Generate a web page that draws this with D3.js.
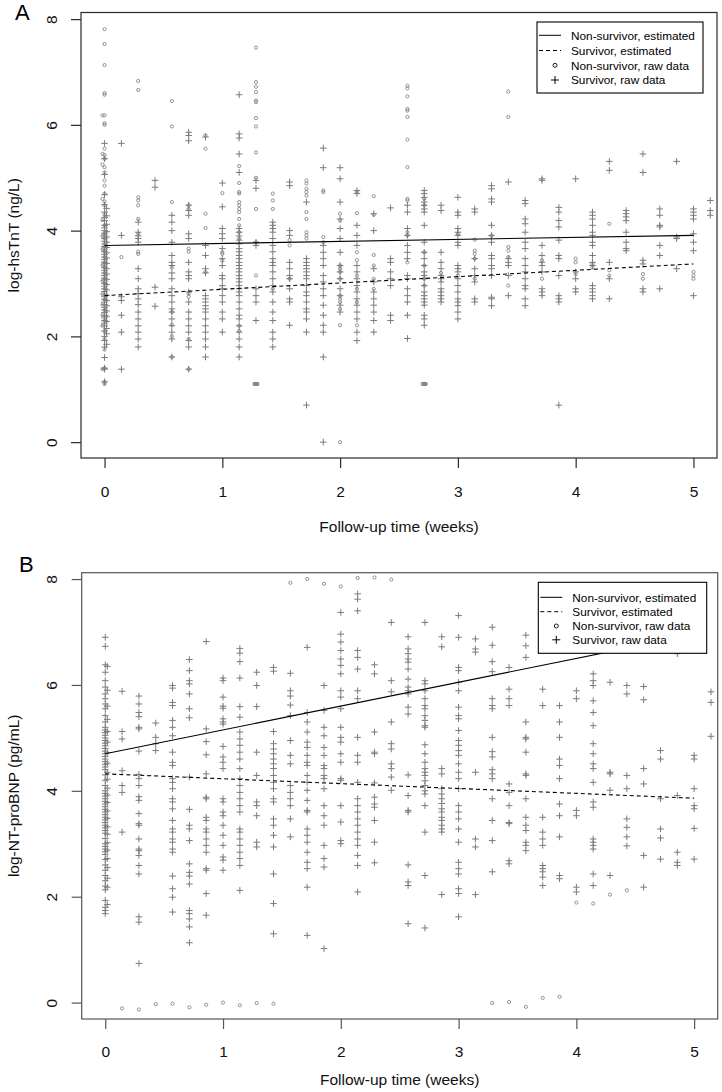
<!DOCTYPE html>
<html><head><meta charset="utf-8">
<script src="https://cdn.jsdelivr.net/npm/d3@7"></script>
<style>body{margin:0;background:#fff;} text{font-family:"Liberation Sans",Arial,Helvetica,sans-serif;}</style>
</head><body><svg id="c" width="722" height="1092"></svg>
<script>
const xTicks=[0,1,2,3,4,5];
const yTicks=[0,2,4,6,8];
const legendLabels=["Non-survivor, estimated","Survivor, estimated","Non-survivor, raw data","Survivor, raw data"];

// ---- Panel A: log-hsTnT, [day, values] ----
const hsTnT_survivor=[
[0,[5.65,5.36,5.06,4.68,4.49,4.35,4.25,4.19,4.1,4.05,4.0,3.95,3.9,3.85,3.8,3.75,3.7,3.65,3.6,3.55,3.5,3.45,3.4,3.35,3.3,3.25,3.2,3.15,3.1,3.05,3.0,2.95,2.9,2.85,2.8,2.75,2.7,2.65,2.6,2.55,2.5,2.45,2.4,2.35,2.3,2.25,2.2,2.1,2.0,1.92,1.8,1.6,1.4,1.38,1.14]],
[0.12,[4.42,4.28,4.12,3.98,3.88,3.78,3.68,3.58,3.48,3.38,3.28,3.18,3.08,2.98,2.88,2.78,2.68,2.58,2.48,2.38,2.28,2.15,2.05,1.85]],
[1,[5.65,3.91,2.75,2.68,2.40,2.08,1.38]],
[2,[4.16,3.97,3.9,3.85,3.78,3.28,3.09,2.9,2.81,2.71,2.6,2.46,2.33,2.2,2.08,1.95,1.80]],
[3,[4.95,4.82,2.93,2.57]],
[4,[4.29,4.16,4.0,3.78,3.53,3.4,3.34,3.2,3.09,2.9,2.77,2.65,2.52,2.46,2.33,2.2,2.08,1.95,1.61]],
[5,[5.86,5.8,5.7,4.48,4.38,4.29,3.94,3.85,3.4,3.22,3.15,3.09,2.84,2.65,2.46,2.33,2.2,2.08,1.92,1.8,1.38]],
[6,[5.77,3.72,3.53,3.28,3.2,2.77,2.71,2.65,2.58,2.52,2.46,2.33,2.2,2.08,1.95,1.8,1.61]],
[7,[4.9,4.45,4.04,3.94,3.85,3.66,3.47,3.34,3.15,3.09,2.96,2.9,2.77,2.65,2.46,2.33,2.08]],
[8,[6.57,5.83,5.75,5.45,5.1,4.04,3.97,3.9,3.82,3.75,3.66,3.6,3.53,3.47,3.4,3.34,3.28,3.22,3.15,3.09,3.03,2.96,2.9,2.84,2.77,2.65,2.52,2.4,2.33,2.2,2.08,1.95,1.8,1.61]],
[9,[4.95,4.8,3.78,3.72,2.9,2.77,2.65,2.3]],
[10,[4.16,4.1,4.04,3.97,3.85,3.72,3.6,3.47,3.4,3.34,3.22,3.09,2.96,2.84,2.65,2.46,2.3,2.08,1.95,1.8]],
[11,[4.92,4.85,4.0,3.91,3.4,3.28,3.15,3.09,2.9,2.71,2.65,2.21]],
[12,[4.54,3.47,3.4,3.34,3.28,3.22,3.15,3.09,2.96,2.84,2.77,2.65,2.52,2.46,2.33,2.08,0.7]],
[13,[5.56,5.19,3.72,3.59,3.47,3.34,3.15,3.03,2.9,2.77,2.59,2.4,2.21,2.08,1.61,0.0]],
[14,[5.19,4.98,4.54,4.22,4.04,3.85,3.59,3.34,3.22,3.09,2.9,2.77,2.59,2.46]],
[15,[4.76,4.7,4.1,3.91,3.72,3.34,3.22,3.09,2.96,2.84,2.71,2.59,2.46,2.33,2.08,1.92]],
[16,[4.32,4.0,3.28,3.03,2.84,2.71,2.59,2.46,2.3,2.08]],
[17,[4.43,3.47,3.4,3.22,3.09,2.96,2.4,2.3]],
[18,[4.48,4.35,4.04,3.91,3.72,3.59,3.47,3.15,3.09,2.9,2.77,2.65,2.4,1.96]],
[19,[4.76,4.7,4.63,4.54,4.48,4.41,4.35,4.1,3.78,3.59,3.47,3.34,3.22,3.15,3.09,2.96,2.84,2.77,2.71,2.65,2.59,2.4,2.33,2.21]],
[20,[4.48,4.38,3.59,3.4,3.28,3.15,3.09,3.03,2.9,2.84,2.77,2.71,2.65]],
[21,[4.63,4.35,4.29,4.04,3.97,3.91,3.78,3.72,3.34,3.28,3.22,3.09,2.96,2.84,2.71,2.65,2.58,2.46,2.33]],
[22,[4.41,4.35,3.47,3.28,3.15,3.03,2.71,2.65]],
[23,[4.85,4.79,4.6,4.54,4.1,3.91,3.78,3.53,3.47,3.34,3.28,3.15,2.74,2.71,2.58]],
[24,[4.92,3.47,3.4,3.34,3.15,2.77]],
[25,[4.57,4.51,4.22,4.13,3.97,3.78,3.66,3.47,3.34,3.22,3.09,2.96,2.9,2.71,2.58]],
[26,[4.98,4.95,3.72,3.53,3.4,3.34,3.22,2.9,2.84,2.77]],
[27,[4.44,4.35,4.19,4.07,3.82,3.53,3.47,3.15,2.77,2.71,2.65,0.7]],
[28,[4.98,3.22,3.09,2.9,2.84]],
[29,[4.35,4.29,4.22,4.1,3.97,3.91,3.78,3.72,3.53,3.4,3.34,2.96,2.9,2.84,2.77,2.71]],
[30,[5.31,5.14,3.4,3.09,2.71]],
[31,[4.38,4.32,4.26,4.19,3.97,3.78,3.66,3.62]],
[32,[5.45,5.1,3.44,3.37,2.9,2.84]],
[33,[4.41,4.29,4.1,4.07,3.72,3.53,2.9]],
[34,[5.31,3.88,3.85,3.28]],
[35,[4.41,4.35,4.29,4.22,3.94,3.78,3.62,2.77]],
[36,[4.57,4.38,4.29]]
];
const hsTnT_nonsurvivor=[
[0,[7.81,7.53,7.13,6.6,6.57,6.18,6.03,6.0,5.55,5.43,5.36,5.2,5.1,4.95,4.85,4.7,4.55,4.48,4.3,4.1,3.95,3.85,3.72,3.6,3.5,3.4,3.3,3.2,3.1,3.0,2.9,2.7,2.5,2.3,2.1,1.95,1.75,1.4,1.14,1.1]],
[-0.12,[6.18,5.45,5.25,4.6,4.2,3.9,3.65,3.35,3.05,2.8,2.6,2.4,2.2,1.38]],
[1,[3.5]],
[2,[6.83,6.66,4.63,4.57,4.48,4.22,3.94,3.6,3.56]],
[4,[6.45,5.97,4.54,3.3,2.46,2.22,2.0,1.61]],
[5,[4.48,4.41,3.66,3.6,2.81,2.75,1.95,1.38]],
[6,[5.8,5.55,4.32,4.05,3.22]],
[7,[4.71,3.59,3.56,3.43]],
[8,[5.22,4.9,4.73,4.7,4.54,4.48,4.41,4.35,4.22,4.1,3.97,3.85,2.2,2.1]],
[9,[7.46,6.81,6.72,6.62,6.46,6.43,6.13,5.97,5.48,5.0,4.41,3.78,3.15]],
[8.9,[1.1]],[8.95,[1.1]],[9,[1.1]],[9.05,[1.1]],[9.1,[1.1]],
[10,[4.7,4.57,4.41,2.9]],
[11,[3.82,3.72,3.09]],
[12,[4.95,4.89,4.79,4.73,4.66,4.35,4.22,3.97,3.91,3.85]],
[13,[4.76,4.73,3.88,3.78]],
[14,[4.32,4.19,3.34,3.28,3.22,3.09,2.77,2.71,2.65,2.52,2.21,0.0]],
[15,[4.73,4.33,3.59,3.44,3.15,2.9,2.65,2.21]],
[16,[4.65,4.3,3.54,3.34,3.09,2.9]],
[18,[6.74,6.69,6.54,6.3,6.27,6.15,5.72,5.2,4.6,4.57,3.97,3.91,3.4]],
[19,[4.6,4.48,3.59,3.34,3.09,2.96]],
[18.9,[1.1]],[18.95,[1.1]],[19,[1.1]],[19.05,[1.1]],[19.1,[1.1]],
[20,[3.2]],
[21,[3.94,3.15]],
[22,[3.83,3.62,3.56,3.47,3.09]],
[23,[3.9]],
[24,[6.63,6.15,3.69,3.62,3.5,2.96]],
[26,[3.44,3.09]],
[28,[3.47,3.4,3.18]],
[29,[3.37,3.3]],
[30,[4.13,3.25,3.15]],
[32,[3.18,3.09]],
[35,[3.22,3.15,3.09]]
];
const hsTnT_fit_nonsurvivor=[[0,3.72],[5,3.91]];
const hsTnT_fit_survivor=[[0,2.77],[5,3.37]];

// ---- Panel B: log-NT-proBNP, [day, values] ----
const ntprobnp_survivor=[
[0,[6.9,6.73,6.38,6.24,6.08,5.96,5.83,5.74,5.64,5.55,5.42,5.3,5.2,5.15,5.1,5.05,5.0,4.95,4.9,4.85,4.8,4.75,4.7,4.65,4.6,4.55,4.5,4.45,4.4,4.3,4.2,4.1,4.0,3.95,3.9,3.85,3.8,3.75,3.7,3.65,3.6,3.55,3.5,3.45,3.4,3.35,3.3,3.25,3.2,3.1,3.0,2.95,2.9,2.85,2.8,2.7,2.6,2.5,2.4,2.3,2.2,2.13,1.93,1.8,1.74,1.68]],
[0.12,[6.35,5.9,5.6,5.35,5.12,4.92,4.72,4.52,4.35,4.22,4.05,3.92,3.78,3.62,3.48,3.32,3.18,3.02,2.88,2.72,2.55,2.35,2.18,1.85]],
[1,[5.88,5.12,4.98,4.38,4.1,3.97,3.22]],
[2,[5.79,5.64,5.48,5.4,5.2,5.17,4.75,4.31,4.23,4.1,3.89,3.82,3.57,3.38,3.35,3.09,2.9,2.87,2.78,2.59,2.43,1.62,1.52,0.74]],
[3,[5.28,5.01,4.89,4.76]],
[4,[5.99,5.94,5.67,5.61,5.33,5.2,5.04,4.73,4.54,4.48,4.23,4.16,4.04,3.85,3.79,3.66,3.44,3.28,3.22,3.09,3.03,2.9,2.84,2.39,2.15,1.99,1.71]],
[5,[6.48,6.27,6.08,6.02,5.83,5.55,5.38,4.26,3.65,3.35,3.28,3.06,2.62,2.46,2.39,2.24,1.74,1.68,1.58,1.43,1.13]],
[6,[6.82,5.17,4.93,4.68,4.32,3.88,3.85,3.5,3.44,3.28,3.22,3.09,2.97,2.84,2.53,2.5,2.06,1.65]],
[7,[6.13,6.08,5.77,5.6,5.56,5.36,5.3,5.26,4.84,4.64,4.54,4.42,3.85,3.79,3.6,3.53,3.35,3.16,2.97,2.75,2.69,2.5]],
[8,[6.69,6.6,6.44,6.13,5.59,5.39,5.11,4.98,4.86,4.73,4.6,4.42,4.23,4.1,3.97,3.85,3.72,3.6,3.28,3.22,3.09,2.97,2.84,2.72,2.59,2.12]],
[9,[6.24,5.99,5.59,4.73,4.29,3.79,3.72,3.53,3.03,2.94]],
[10,[6.33,6.26,5.12,4.89,4.79,4.7,4.6,4.51,4.42,4.29,4.16,4.04,3.85,3.79,3.47,3.35,3.16,2.94,2.43,1.87,1.3]],
[11,[6.22,5.89,5.79,5.62,5.42,4.95,4.67,4.51,4.1,3.97,3.85,3.72,3.47,3.13]],
[12,[6.71,5.48,5.3,5.11,4.92,4.82,4.67,4.54,4.48,4.29,4.16,4.01,3.82,3.63,3.6,3.28,3.16,3.03,2.84,2.65,2.53,2.18,1.27]],
[13,[5.99,5.52,5.2,5.04,4.82,4.67,4.48,4.42,4.29,4.23,4.04,3.72,3.53,3.35,2.97,2.72,2.56,1.02]],
[14,[7.37,6.96,6.81,6.65,6.49,6.37,6.21,5.89,5.77,5.55,5.2,5.01,4.92,4.7,4.54,4.23,4.2,3.72,3.41,3.06,3.0]],
[15,[7.72,7.62,7.4,6.65,6.52,6.3,5.89,5.74,5.01,4.67,4.54,4.16,3.85,3.72,3.6,3.47,3.35,3.22,3.09,2.97,2.78,2.59,2.09]],
[16,[6.38,6.21,5.11,4.73,4.7,4.15,3.88,3.75,3.69,3.44,3.03,2.64]],
[17,[7.18,6.08,5.87,5.3,4.89,4.79,4.51,4.42,4.26,4.01]],
[18,[6.91,6.68,6.59,6.49,6.43,6.3,6.11,5.96,5.89,5.83,5.58,5.45,4.3,3.91,3.63,3.6,2.6,2.28,2.21,1.49]],
[19,[7.18,6.08,6.02,5.89,5.74,5.61,5.55,5.42,5.33,5.23,5.2,4.87,4.7,4.54,4.42,4.35,4.29,4.19,4.1,4.0,3.94,3.72,3.22,2.4,1.41]],
[20,[6.91,6.72,4.42,4.32,4.04,3.94,3.85,3.76,3.66,3.6,3.5,3.44,3.35,3.28,3.22,2.04]],
[21,[7.31,6.9,6.33,6.27,6.05,5.89,5.58,5.42,5.36,5.14,4.95,4.86,4.76,4.67,4.51,4.35,4.23,4.04,3.72,3.6,3.47,3.28,3.03,2.65,2.53,2.43,2.15,2.06,1.62]],
[22,[6.87,6.68,6.62,4.35,3.09,2.94,2.04]],
[23,[7.09,6.75,6.44,6.25,5.74,5.61,5.55,5.01,4.74,4.64,4.4,4.32,4.23,3.85,3.44,3.06,2.47]],
[24,[6.33,5.92,5.74,5.61,4.13,3.97,3.72,3.4,3.38,2.68,2.62]],
[25,[6.94,6.74,6.52,5.3,5.01,4.98,4.73,4.32,4.29,3.85,3.5,3.35,3.25,3.03,2.97,2.87]],
[26,[5.92,5.61,3.5,3.22,3.09,2.97,2.59,2.53,2.47,2.37,2.21]],
[27,[5.61,5.3,5.01,4.6,4.48,4.23,3.75,3.53,3.13,2.4,2.34]],
[28,[5.89,5.74,3.63,3.53,2.18,2.09]],
[29,[6.21,6.08,5.99,5.7,5.48,5.23,4.89,4.7,4.51,4.42,4.16,3.79,3.69,3.09,3.03,2.97,2.9,2.43,2.21]],
[30,[6.05,4.35,4.32,4.01,2.4]],
[31,[5.99,5.83,4.29,4.04,3.47,3.31,3.13,2.96]],
[32,[5.97,5.72,4.42,4.13,2.78,2.18]],
[33,[4.76,4.6,3.85,3.28,3.11,2.71]],
[34,[6.59,3.91,2.84,2.65,2.59]],
[35,[4.67,4.6,4.04,3.72,3.66,3.29,2.71]],
[36,[5.87,5.67,5.03]]
];
const ntprobnp_nonsurvivor=[
[1,[-0.11]],[2,[-0.13]],[3,[-0.03]],[4,[-0.02]],[5,[-0.09]],[6,[-0.04]],[7,[0.0]],[8,[-0.05]],[9,[-0.01]],[10,[-0.02]],
[11,[7.93]],[12,[8.0]],[13,[7.91]],[14,[7.86]],[15,[8.02]],[16,[8.03]],[17,[7.99]],
[23,[-0.01]],[24,[0.01]],[25,[-0.08]],[26,[0.09]],[27,[0.11]],
[28,[1.89]],[29,[1.87]],[30,[2.04]],[31,[2.12]]
];
const ntprobnp_fit_nonsurvivor=[[0,4.70],[5,6.95]];
const ntprobnp_fit_survivor=[[0,4.32],[5,3.86]];

const svg=d3.select("#c");
const ptColor="#7a7a7a";
const plusPath=h=>`M${-h},0H${h}M0,${-h}V${h}`;

function flatten(groups){
  const out=[];
  groups.forEach(([d,vals])=>vals.forEach(v=>out.push({t:d/7,v})));
  return out;
}

function panel(cfg){
  const g=svg.append("g");
  const x=d3.scaleLinear().domain([-0.2,5.2]).range([cfg.l,cfg.r]);
  const y=d3.scaleLinear().domain(cfg.yDomain).range([cfg.b,cfg.t]);

  const surv=flatten(cfg.surv), non=flatten(cfg.non);
  g.append("g").selectAll("path").data(surv).join("path")
    .attr("d",plusPath(3.3))
    .attr("transform",d=>`translate(${x(d.t)},${y(d.v)})`)
    .attr("stroke",ptColor).attr("stroke-width",1).attr("fill","none");
  g.append("g").selectAll("circle").data(non).join("circle")
    .attr("cx",d=>x(d.t)).attr("cy",d=>y(d.v)).attr("r",1.6)
    .attr("stroke",ptColor).attr("stroke-width",0.8).attr("fill","none");

  const line=d3.line().x(d=>x(d[0])).y(d=>y(d[1]));
  g.append("path").attr("d",line(cfg.fitNon)).attr("stroke","#000").attr("stroke-width",1.1).attr("fill","none");
  g.append("path").attr("d",line(cfg.fitSurv)).attr("stroke","#000").attr("stroke-width",1.1)
    .attr("stroke-dasharray","4,3").attr("fill","none");

  g.append("rect").attr("x",cfg.l).attr("y",cfg.t).attr("width",cfg.r-cfg.l).attr("height",cfg.b-cfg.t)
    .attr("fill","none").attr("stroke",cfg.boxColor).attr("stroke-width",1.2);

  const xa=g.append("g").attr("transform",`translate(0,${cfg.b})`)
    .call(d3.axisBottom(x).tickValues(xTicks).tickSize(10).tickPadding(0).tickFormat(d3.format("d")));
  xa.select(".domain").remove();
  xa.selectAll("line").attr("stroke",cfg.boxColor).attr("stroke-width",1.2);
  xa.selectAll("text").attr("font-size",15.5).attr("fill","#111").attr("dy",null).attr("y",cfg.xTickY);

  const ya=g.append("g").attr("transform",`translate(${cfg.l},0)`)
    .call(d3.axisLeft(y).tickValues(yTicks).tickSize(10).tickFormat(d3.format("d")));
  ya.select(".domain").remove();
  ya.selectAll("line").attr("stroke",cfg.boxColor).attr("stroke-width",1.2);
  ya.selectAll("text").attr("font-size",15.5).attr("fill","#111")
    .attr("x",null).attr("dy",null).attr("text-anchor","middle")
    .attr("transform",`translate(${57-cfg.l},0) rotate(-90)`);

  g.append("text").attr("x",(cfg.l+cfg.r)/2).attr("y",cfg.xTitleY).attr("text-anchor","middle")
    .attr("font-size",15.5).attr("fill","#111").text("Follow-up time (weeks)");
  g.append("text").attr("transform",`translate(19,${(cfg.t+cfg.b)/2}) rotate(-90)`).attr("text-anchor","middle")
    .attr("font-size",15.5).attr("fill","#111").text(cfg.yTitle);
  g.append("text").attr("x",cfg.labelX).attr("y",cfg.labelY).attr("font-size",22).attr("fill","#000").text(cfg.label);

  const L=cfg.legend;
  const lg=g.append("g");
  lg.append("rect").attr("x",L.x0).attr("y",L.y0).attr("width",L.x1-L.x0).attr("height",L.y1-L.y0)
    .attr("fill","#fff").attr("stroke","#000").attr("stroke-width",1.1);
  legendLabels.forEach((lab,i)=>{
    const cy=L.rows[i];
    if(i<2){
      lg.append("line").attr("x1",L.x0+2).attr("x2",L.x0+24).attr("y1",cy).attr("y2",cy)
        .attr("stroke","#000").attr("stroke-width",1).attr("stroke-dasharray",i===1?"4,3":null);
    } else if(i===2){
      lg.append("circle").attr("cx",L.x0+18).attr("cy",cy).attr("r",2).attr("fill","none").attr("stroke","#000").attr("stroke-width",0.9);
    } else {
      lg.append("path").attr("d",plusPath(4)).attr("transform",`translate(${L.x0+18},${cy})`).attr("stroke","#000").attr("stroke-width",1);
    }
    lg.append("text").attr("x",L.x0+34).attr("y",cy+4.3).attr("font-size",11.8).attr("fill","#000").text(lab);
  });
}

panel({l:81,r:717,t:12.5,b:458,yDomain:[-0.3,8.125],surv:hsTnT_survivor,non:hsTnT_nonsurvivor,
  fitNon:hsTnT_fit_nonsurvivor,fitSurv:hsTnT_fit_survivor,boxColor:"#2a2a2a",
  xTickY:39,xTitleY:532,yTitle:"log-hsTnT (ng/L)",label:"A",labelX:15,labelY:20,
  legend:{x0:537,x1:703,y0:22,y1:93,rows:[35.3,50.5,65.3,80]}});
panel({l:81.7,r:717.7,t:572.7,b:1019,yDomain:[-0.31,8.12],surv:ntprobnp_survivor,non:ntprobnp_nonsurvivor,
  fitNon:ntprobnp_fit_nonsurvivor,fitSurv:ntprobnp_fit_survivor,boxColor:"#555",
  xTickY:38,xTitleY:1085,yTitle:"log-NT-proBNP (pg/mL)",label:"B",labelX:19,labelY:572,
  legend:{x0:538.3,x1:706.7,y0:582.3,y1:653.3,rows:[597.3,611.7,626,639.8]}});
</script></body></html>
